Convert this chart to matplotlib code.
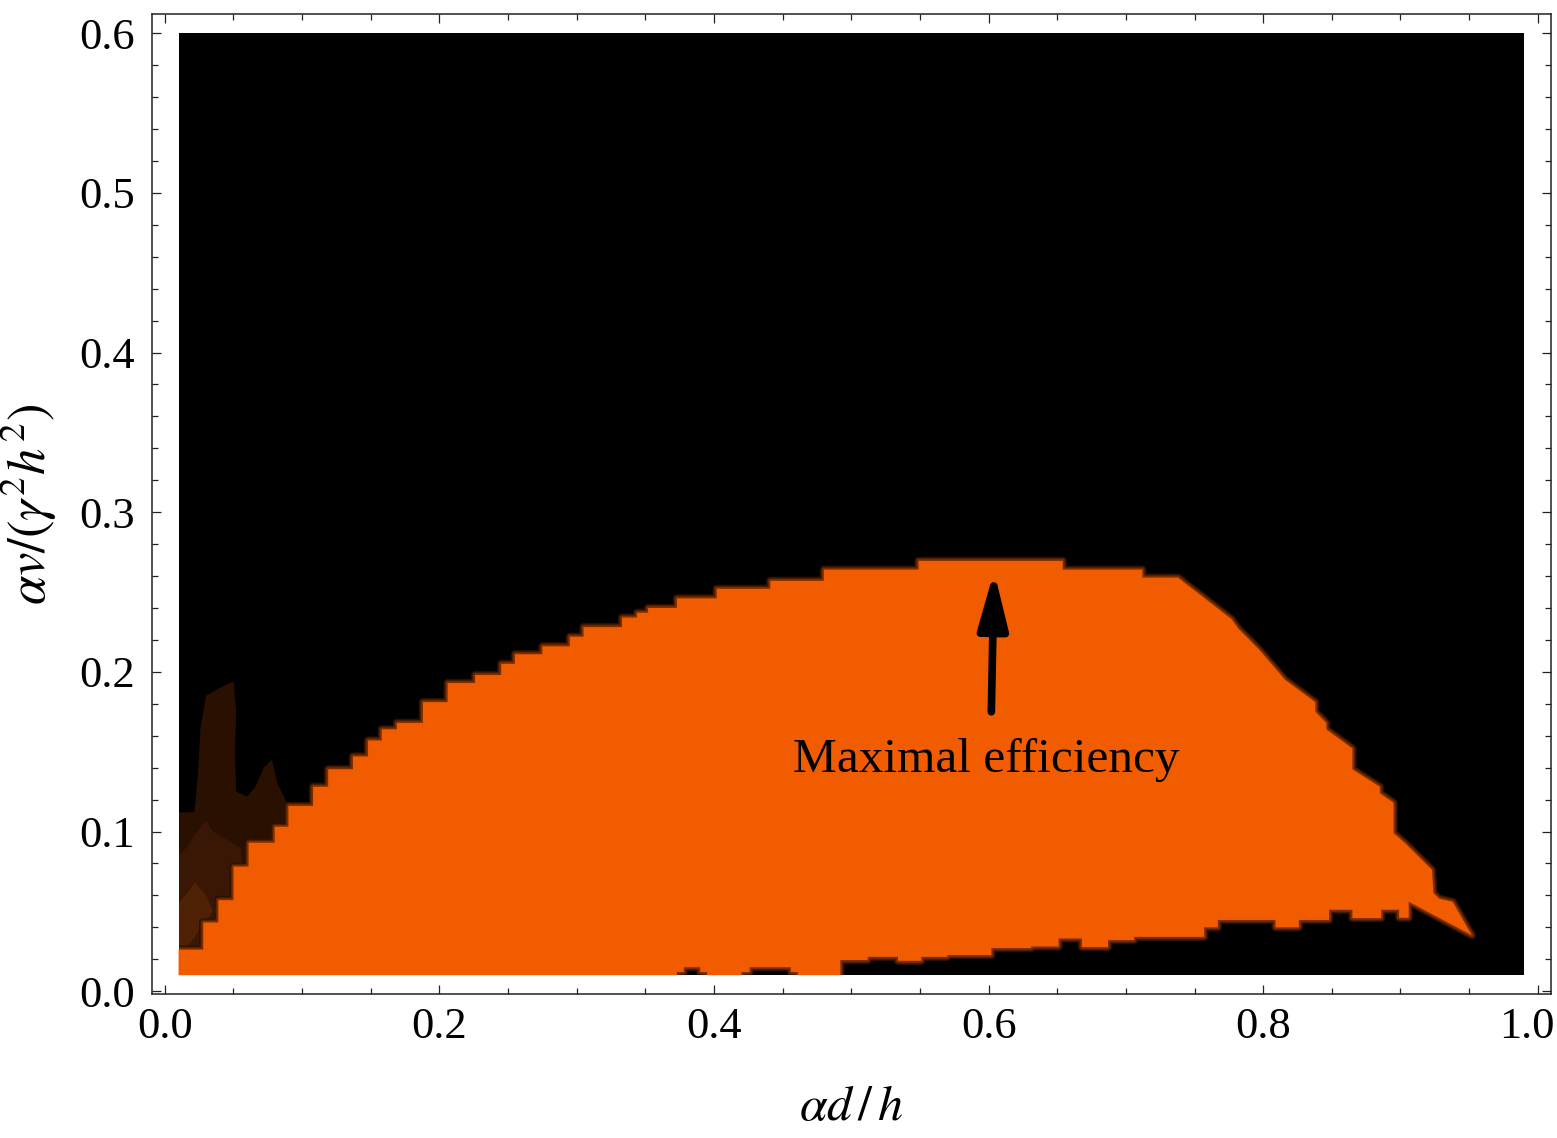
"""
plot.py - efficiency region in the (alpha d/h, alpha v/(gamma^2 h^2)) plane,
redrawn from a Mathematica contour plot: black = low, orange = high.
"""

import numpy as np
import matplotlib
matplotlib.use("Agg")
import matplotlib.pyplot as plt
from matplotlib.patches import Polygon, Rectangle
from matplotlib.ticker import MultipleLocator
from matplotlib.transforms import ScaledTranslation

# plotted domain of the contour plot
X_RANGE = (0.01, 0.99)
Y_RANGE = (0.01, 0.60)

# upper edge of the orange region, step-post (left part, staircase)
TOP_X = [0.010, 0.028, 0.039, 0.050, 0.061, 0.080, 0.090, 0.108, 0.119, 0.137,
         0.148, 0.158, 0.169, 0.188, 0.206, 0.226, 0.245, 0.255, 0.275, 0.295,
         0.305, 0.333, 0.344, 0.352, 0.373, 0.402, 0.441, 0.480, 0.549, 0.654,
         0.712]
TOP_Y = [0.026, 0.043, 0.057, 0.078, 0.093, 0.103, 0.116, 0.128, 0.139, 0.147,
         0.157, 0.164, 0.168, 0.181, 0.193, 0.198, 0.205, 0.211, 0.216, 0.222,
         0.228, 0.234, 0.237, 0.240, 0.246, 0.252, 0.257, 0.264, 0.2695, 0.264,
         0.259]
TOP_END = 0.738

# right edge of the orange region (bottom -> top)
RIGHT_X = [0.906, 0.952, 0.944, 0.938, 0.928, 0.924, 0.923, 0.903, 0.895, 0.895,
           0.885, 0.885, 0.865, 0.865, 0.846, 0.846, 0.838, 0.838, 0.816, 0.797,
           0.782, 0.777]
RIGHT_Y = [0.056, 0.035, 0.047, 0.056, 0.058, 0.0615, 0.076, 0.093, 0.099, 0.118,
           0.124, 0.128, 0.139, 0.152, 0.164, 0.168, 0.175, 0.181, 0.195, 0.214,
           0.227, 0.233]

# lower edge of the orange region, step-post
BOT_X = [0.010, 0.373, 0.378, 0.390, 0.395, 0.420, 0.426, 0.456, 0.461, 0.492,
         0.512, 0.534, 0.551, 0.570, 0.602, 0.631, 0.651, 0.668, 0.687, 0.706,
         0.757, 0.767, 0.809, 0.826, 0.848, 0.865, 0.886, 0.899]
BOT_Y = [0.010, 0.012, 0.015, 0.012, 0.010, 0.012, 0.015, 0.012, 0.010, 0.0195,
         0.0215, 0.019, 0.0215, 0.0226, 0.027, 0.028, 0.033, 0.0276, 0.032, 0.034,
         0.040, 0.0446, 0.040, 0.0446, 0.051, 0.0458, 0.051, 0.046]
BOT_END = 0.906

# dark brown contour bands in the lower-left corner (outer -> inner)
BROWN1_X = [0.010, 0.010, 0.0215, 0.024, 0.026, 0.030, 0.040, 0.050, 0.052, 0.051,
            0.052, 0.060, 0.066, 0.072, 0.078, 0.082, 0.090, 0.090, 0.030]
BROWN1_Y = [0.020, 0.112, 0.112, 0.135, 0.165, 0.185, 0.190, 0.194, 0.175, 0.150,
            0.125, 0.122, 0.128, 0.140, 0.145, 0.130, 0.116, 0.050, 0.020]
BROWN2_X = [0.010, 0.010, 0.016, 0.022, 0.030, 0.035, 0.045, 0.055, 0.060]
BROWN2_Y = [0.020, 0.085, 0.090, 0.098, 0.107, 0.100, 0.095, 0.090, 0.050]
BROWN3_X = [0.010, 0.010, 0.015, 0.022, 0.030, 0.035]
BROWN3_Y = [0.020, 0.055, 0.060, 0.068, 0.060, 0.050]

XTICKS = [0.0, 0.2, 0.4, 0.6, 0.8, 1.0]
XTICK_LABELS = ["0.0", "0.2", "0.4", "0.6", "0.8", "1.0"]
YTICKS = [0.0, 0.1, 0.2, 0.3, 0.4, 0.5, 0.6]
YTICK_LABELS = ["0.0", "0.1", "0.2", "0.3", "0.4", "0.5", "0.6"]

NOTE = "Maximal efficiency"
NOTE_XY = (0.598, 0.1375)
ARROW_FROM = (0.602, 0.175)
ARROW_TO = (0.604, 0.263)

ORANGE = "#f25c00"

plt.rcParams["font.family"] = ["Liberation Serif", "DejaVu Serif"]
plt.rcParams["mathtext.fontset"] = "stix"


def stairs(xs, ys, x_end):
    # post-step outline: ys[i] held from xs[i] to the next break
    edges = list(xs) + [x_end]
    px, py = [], []
    for i, y in enumerate(ys):
        px += [edges[i], edges[i + 1]]
        py += [y, y]
    return px, py


bx, by = stairs(BOT_X, BOT_Y, BOT_END)
tx, ty = stairs(TOP_X, TOP_Y, TOP_END)
outline = np.column_stack([
    [X_RANGE[0]] + bx + RIGHT_X + tx[::-1],
    [Y_RANGE[0]] + by + RIGHT_Y + ty[::-1],
])

fig = plt.figure(figsize=(15.57, 11.38), dpi=100)
ax = fig.add_axes([0.0974, 0.1265, 0.8987, 0.8609])

ax.add_patch(Rectangle((X_RANGE[0], Y_RANGE[0]), X_RANGE[1] - X_RANGE[0],
                       Y_RANGE[1] - Y_RANGE[0], facecolor="black", lw=0, zorder=1))
clip = Rectangle((X_RANGE[0], Y_RANGE[0]), X_RANGE[1] - X_RANGE[0],
                 Y_RANGE[1] - Y_RANGE[0], transform=ax.transData)

for bxs, bys, col in [(BROWN1_X, BROWN1_Y, "#2a1000"),
                      (BROWN2_X, BROWN2_Y, "#3a1704"),
                      (BROWN3_X, BROWN3_Y, "#4f2206")]:
    p = Polygon(np.column_stack([bxs, bys]), closed=True, facecolor=col, lw=0, zorder=2)
    ax.add_patch(p)
    p.set_clip_path(clip)

# soft brown fringe round the orange region (wide & dark -> narrow & warm),
# then the flat fill on top
for lw, col in [(6.0, "#2c0f00"), (4.2, "#4e1c00"), (2.6, "#7a2e00")]:
    glow = Polygon(outline, closed=True, facecolor="none", edgecolor=col,
                   lw=lw, joinstyle="round", zorder=3)
    ax.add_patch(glow)
    glow.set_clip_path(clip)
ax.add_patch(Polygon(outline, closed=True, facecolor=ORANGE, lw=0, zorder=4))

ax.annotate("", xy=ARROW_TO, xytext=ARROW_FROM, zorder=6,
            arrowprops=dict(arrowstyle="-|>,head_length=1.7,head_width=0.45",
                            lw=5.5, color="black", mutation_scale=20,
                            shrinkA=0, shrinkB=0))
ax.text(NOTE_XY[0], NOTE_XY[1], NOTE, ha="center", va="baseline",
        fontsize=35.5, color="black", zorder=6)

ax.set_xlim(-0.0096, 1.0096)
ax.set_ylim(-0.0018, 0.6118)
ax.set_xticks(XTICKS)
ax.set_xticklabels(XTICK_LABELS)
ax.set_yticks(YTICKS)
ax.set_yticklabels(YTICK_LABELS)
ax.xaxis.set_minor_locator(MultipleLocator(0.05))
ax.yaxis.set_minor_locator(MultipleLocator(0.02))
ax.tick_params(which="both", direction="in", top=True, right=True, width=0.9,
               color="#222222", labelsize=32)
ax.tick_params(which="major", length=6.5)
ax.tick_params(which="minor", length=4.5)
ax.tick_params(axis="x", pad=9)
ax.tick_params(axis="y", pad=12)
for s in ax.spines.values():
    s.set_linewidth(1.1)
    s.set_color("#222222")

# the last x label sits flush with the right edge, as in the original
last = ax.get_xticklabels()[-1]
last.set_transform(last.get_transform() + ScaledTranslation(-8 / 72, 0, fig.dpi_scale_trans))

ax.set_xlabel(r"$\alpha d\,/\,h$", fontsize=36)
ax.set_ylabel(r"$\alpha v/(\gamma^2 h^2)$", fontsize=38)
ax.xaxis.set_label_coords(0.5, -0.092)
ax.yaxis.set_label_coords(-0.066, 0.5)

fig.savefig("out.png", dpi=100)
